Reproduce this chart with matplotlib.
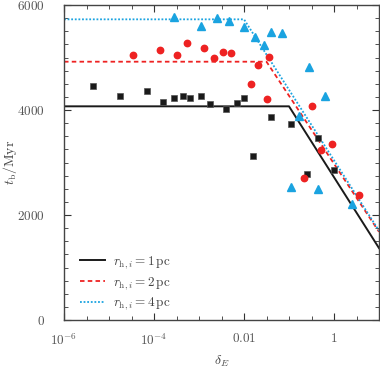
import numpy as np
import matplotlib
matplotlib.use("Agg")
import matplotlib.pyplot as plt
from matplotlib.ticker import FixedLocator, NullFormatter

plt.rcParams['mathtext.fontset'] = 'cm'
plt.rcParams['font.family'] = 'DejaVu Serif'

# simulation points (log10 delta_E, t_b in Myr)
logd_1pc = [-5.36, -4.76, -4.16, -3.8, -3.56, -3.36, -3.2, -2.96, -2.76, -2.41,
            -2.16, -2.01, -1.81, -1.4, -0.96, -0.61, -0.36, -0.01]
tb_1pc = [4457, 4261, 4368, 4152, 4222, 4267, 4234, 4261, 4114, 4025,
          4127, 4234, 3118, 3873, 3733, 2775, 3473, 2857]

logd_2pc = [-4.46, -3.86, -3.5, -3.26, -2.9, -2.66, -2.46, -2.3, -1.85, -1.7,
            -1.5, -1.45, -0.66, -0.49, -0.3, -0.05, 0.56]
tb_2pc = [5048, 5137, 5041, 5283, 5175, 4997, 5111, 5086, 4495, 4857,
          4216, 5003, 2698, 4076, 3232, 3346, 2375]

logd_4pc = [-3.56, -2.95, -2.61, -2.34, -2.0, -1.75, -1.56, -1.4, -1.15, -0.96,
            -0.78, -0.55, -0.36, -0.19, 0.4]
tb_4pc = [5778, 5606, 5752, 5689, 5581, 5390, 5238, 5486, 5467, 2533,
          3886, 4825, 2502, 4267, 2204]

# fitted broken lines: plateau, break point, value at delta_E = 10
plateau = {'1': 4070, '2': 4920, '4': 5727}
brk = {'1': 0.1, '2': 10 ** -1.5, '4': 0.01}
end_val = {'1': 1370, '2': 1680, '4': 1700}

black = '#1a1a1a'
red = '#ee2222'
blue = '#1aa3e0'

fig = plt.figure(figsize=(3.8, 3.69), dpi=100)
ax = fig.add_axes([64 / 380, 49 / 369, 315 / 380, 315 / 369])

ax.plot(10 ** np.array(logd_1pc), tb_1pc, 's', color=black, ms=4.6, mec='#555555', mew=0.5, zorder=3)
ax.plot(10 ** np.array(logd_2pc), tb_2pc, 'o', color=red, ms=4.6, mec=red, zorder=3)
ax.plot(10 ** np.array(logd_4pc), tb_4pc, '^', color=blue, ms=5.5, mec=blue, zorder=3)

styles = {'1': (black, '-', 1.4), '2': (red, (0, (2.5, 1.8)), 1.3), '4': (blue, (0, (1, 1)), 1.3)}
for k in ['1', '2', '4']:
    c, ls, lw = styles[k]
    xs = [1e-6, brk[k], 10]
    ys = [plateau[k], plateau[k], end_val[k]]
    ax.plot(xs, ys, color=c, ls=ls, lw=lw, label=r'$r_{\rm h,\it i} = %s\,{\rm pc}$' % k, zorder=2)

ax.set_xscale('log')
ax.set_xlim(1e-6, 10)
ax.set_ylim(0, 6000)

ax.xaxis.set_major_locator(FixedLocator([1e-6, 1e-4, 1e-2, 1]))
ax.xaxis.set_minor_locator(FixedLocator([10 ** (k / 2) for k in range(-12, 3)]))
ax.xaxis.set_minor_formatter(NullFormatter())
ax.set_xticklabels([r'$10^{-6}$', r'$10^{-4}$', r'$0.01$', r'$1$'])
ax.set_yticks([0, 2000, 4000, 6000])
ax.set_yticklabels([r'$0$', r'$2000$', r'$4000$', r'$6000$'])
ax.yaxis.set_minor_locator(FixedLocator(np.arange(0, 6001, 250)))
ax.yaxis.set_minor_formatter(NullFormatter())

ax.tick_params(which='both', direction='in', top=True, right=True, labelsize=9.5,
               colors='#333333', labelcolor='#555555')
ax.tick_params(which='major', length=5, width=0.8)
ax.tick_params(axis='x', which='major', pad=9)
ax.tick_params(axis='y', which='major', pad=14)
ax.tick_params(which='minor', length=3, width=0.6)
for s in ax.spines.values():
    s.set_color('#444444')
    s.set_linewidth(1.0)

ax.set_xlabel(r'$\delta_E$', fontsize=10, color='#444444', labelpad=4)
ax.set_ylabel(r'$t_{\rm b}/{\rm Myr}$', fontsize=10, color='#444444')
ax.yaxis.set_label_coords(-0.143, 0.5)

leg = ax.legend(loc='lower left', frameon=False, fontsize=9.5, handlelength=1.9,
                handletextpad=0.6, labelspacing=0.3, borderaxespad=0.0,
                bbox_to_anchor=(0.035, 0.008))
for t in leg.get_texts():
    t.set_color('#444444')

fig.savefig('out.png', dpi=100)
